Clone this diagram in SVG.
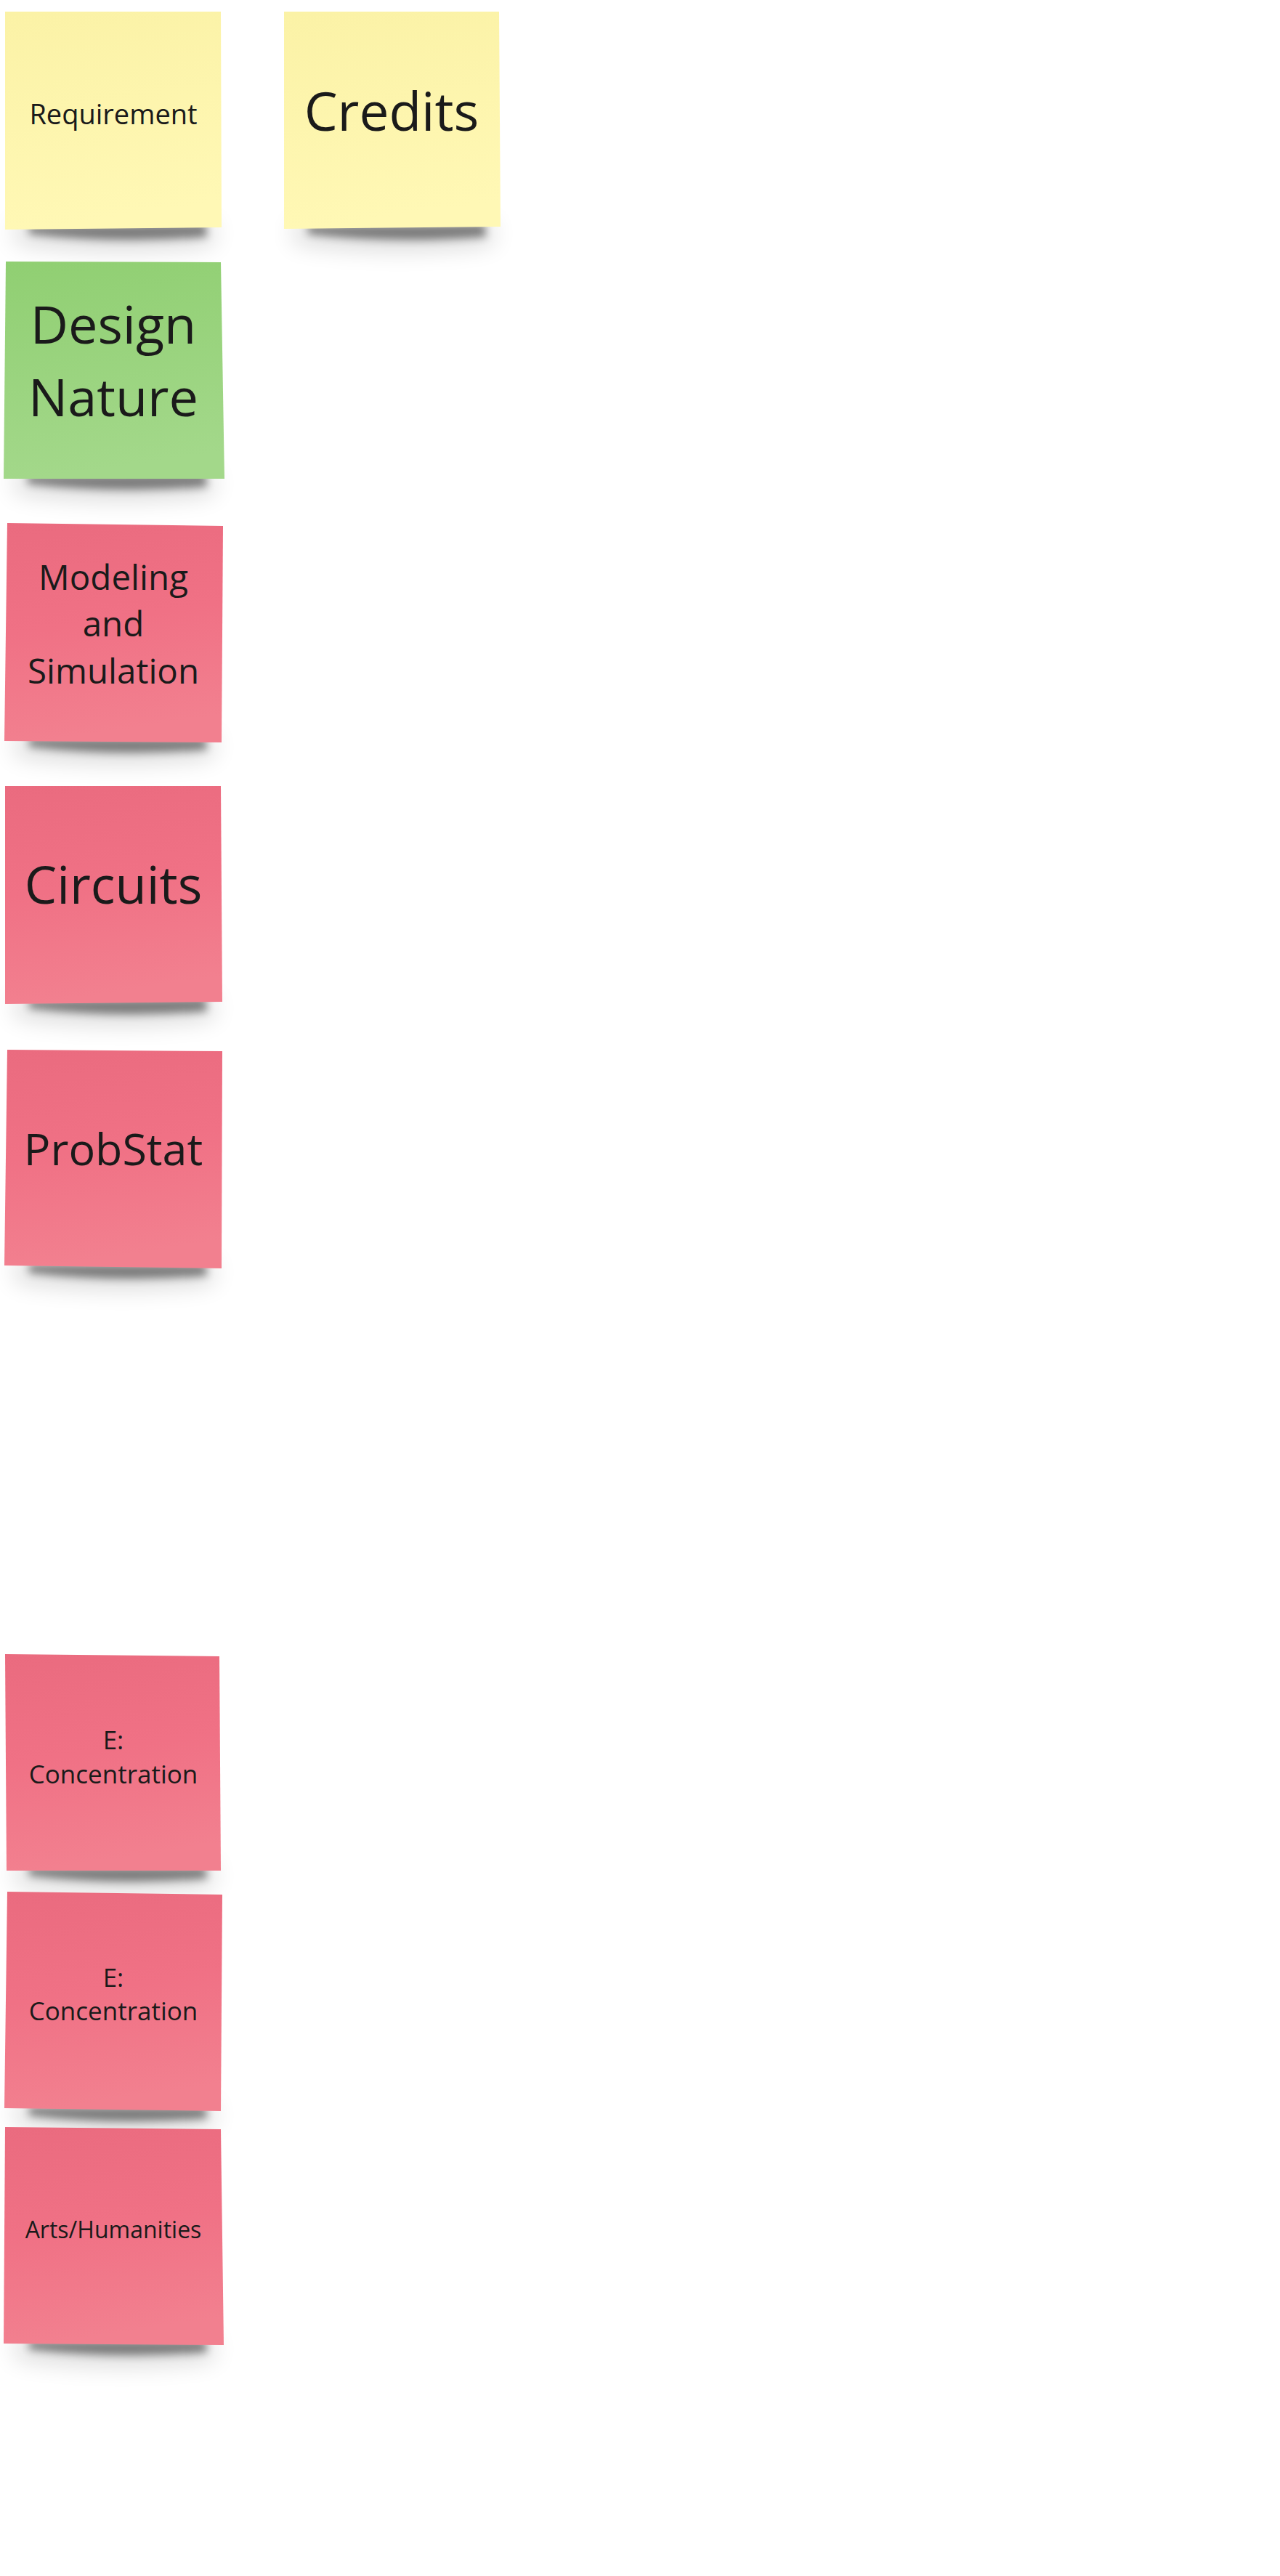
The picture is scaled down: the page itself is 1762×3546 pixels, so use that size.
<svg xmlns="http://www.w3.org/2000/svg" width="1762" height="3546" viewBox="0 0 1762 3546">
<defs>
<linearGradient id="gy" x1="0" y1="0" x2="0.15" y2="1">
<stop offset="0" stop-color="#FBF2A6"/><stop offset="1" stop-color="#FFF8B5"/>
</linearGradient>
<linearGradient id="gg" x1="0" y1="0" x2="0.15" y2="1">
<stop offset="0" stop-color="#90CF72"/><stop offset="1" stop-color="#A3D88A"/>
</linearGradient>
<linearGradient id="gr" x1="0" y1="0" x2="0.15" y2="1">
<stop offset="0" stop-color="#EA6B7F"/><stop offset="0.5" stop-color="#F07185"/><stop offset="1" stop-color="#F2808F"/>
</linearGradient>
<filter id="sh" x="-20%" y="-200%" width="140%" height="500%">
<feGaussianBlur stdDeviation="6"/>
</filter>
<filter id="sh2" x="-20%" y="-200%" width="140%" height="500%">
<feGaussianBlur stdDeviation="16"/>
</filter>
</defs>
<style>
.t{font-family:"Open Sans","Noto Sans","Liberation Sans",sans-serif;fill:#1A1A1A;text-anchor:middle}
.s1{fill:#000;opacity:0.45}
.s2{fill:#000;opacity:0.14}
</style>
<rect width="1762" height="3546" fill="#FFFFFF"/>
<g id="connectors"/>

<g id="requirement">
<path class="s2" filter="url(#sh2)" d="M20,306 L295,306 L295,336 Q160,354 20,334 Z"/>
<path class="s1" filter="url(#sh)" d="M40,310 L283,308 L285,326 Q160,336 40,322 Z"/>
<polygon points="7,16 304,16 305,313 7,316" fill="url(#gy)"/>
<text class="t" x="156" y="171" font-size="38">Requirement</text>
</g>

<g id="credits">
<path class="s2" filter="url(#sh2)" d="M404,306 L679,306 L679,336 Q544,354 404,334 Z"/>
<path class="s1" filter="url(#sh)" d="M424,310 L667,308 L669,326 Q544,336 424,322 Z"/>
<polygon points="391,16 687,16 689,312 391,315" fill="url(#gy)"/>
<text class="t" x="539" y="180" font-size="73">Credits</text>
</g>

<g id="design-nature">
<path class="s2" filter="url(#sh2)" d="M20,650 L295,650 L295,680 Q160,698 20,678 Z"/>
<path class="s1" filter="url(#sh)" d="M38,654 L283,652 L285,670 Q160,680 38,666 Z"/>
<polygon points="8,360 304,361 309,659 5,659" fill="url(#gg)"/>
<text class="t" x="156" y="473" font-size="72">Design</text>
<text class="t" x="156" y="573" font-size="72">Nature</text>
</g>

<g id="modeling">
<path class="s2" filter="url(#sh2)" d="M20,1012 L295,1012 L295,1042 Q160,1060 20,1040 Z"/>
<path class="s1" filter="url(#sh)" d="M40,1016 L283,1016 L285,1032 Q160,1042 40,1028 Z"/>
<polygon points="10,720 307,724 305,1022 6,1020" fill="url(#gr)"/>
<text class="t" x="156" y="812" font-size="47.5">Modeling</text>
<text class="t" x="156" y="876" font-size="47.5">and</text>
<text class="t" x="156" y="941" font-size="47.5">Simulation</text>
</g>

<g id="circuits">
<path class="s2" filter="url(#sh2)" d="M20,1372 L295,1372 L295,1402 Q160,1420 20,1400 Z"/>
<path class="s1" filter="url(#sh)" d="M40,1376 L283,1374 L285,1392 Q160,1402 40,1388 Z"/>
<polygon points="7,1082 304,1082 306,1379 7,1382" fill="url(#gr)"/>
<text class="t" x="156" y="1244" font-size="70.5">Circuits</text>
</g>

<g id="probstat">
<path class="s2" filter="url(#sh2)" d="M20,1736 L295,1736 L295,1766 Q160,1784 20,1764 Z"/>
<path class="s1" filter="url(#sh)" d="M40,1740 L283,1740 L285,1756 Q160,1766 40,1752 Z"/>
<polygon points="10,1445 306,1447 305,1746 6,1742" fill="url(#gr)"/>
<text class="t" x="156" y="1604" font-size="61">ProbStat</text>
</g>

<g id="e-concentration-1">
<path class="s2" filter="url(#sh2)" d="M20,2566 L295,2566 L295,2596 Q160,2614 20,2594 Z"/>
<path class="s1" filter="url(#sh)" d="M40,2570 L283,2570 L285,2586 Q160,2596 40,2582 Z"/>
<polygon points="7,2277 302,2280 304,2575 9,2575" fill="url(#gr)"/>
<text class="t" x="156" y="2408" font-size="35">E:</text>
<text class="t" x="156" y="2455" font-size="35">Concentration</text>
</g>

<g id="e-concentration-2">
<path class="s2" filter="url(#sh2)" d="M20,2896 L295,2896 L295,2926 Q160,2944 20,2924 Z"/>
<path class="s1" filter="url(#sh)" d="M40,2900 L283,2900 L285,2916 Q160,2926 40,2912 Z"/>
<polygon points="10,2604 306,2608 304,2906 6,2902" fill="url(#gr)"/>
<text class="t" x="156" y="2735" font-size="35">E:</text>
<text class="t" x="156" y="2781" font-size="35">Concentration</text>
</g>

<g id="arts-humanities">
<path class="s2" filter="url(#sh2)" d="M20,3218 L295,3218 L295,3248 Q160,3266 20,3246 Z"/>
<path class="s1" filter="url(#sh)" d="M40,3222 L283,3222 L285,3238 Q160,3248 40,3234 Z"/>
<polygon points="7,2928 304,2931 308,3228 5,3226" fill="url(#gr)"/>
<text class="t" x="156" y="3081" font-size="32">Arts/Humanities</text>
</g>
</svg>
